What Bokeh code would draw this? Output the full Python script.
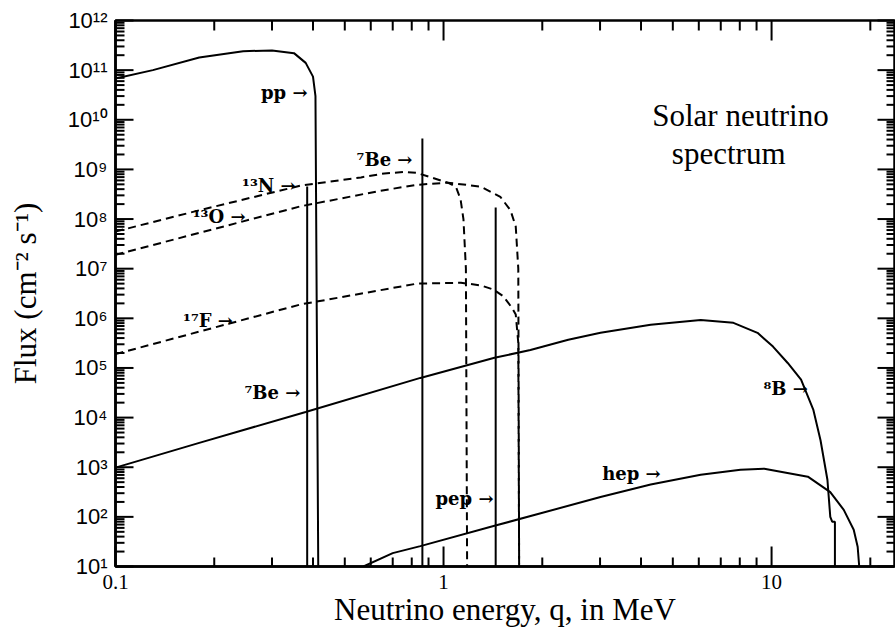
import math
from bokeh.plotting import figure
from bokeh.models import FixedTicker, Label
from bokeh.core.properties import value
from bokeh.embed import file_html
from bokeh.resources import INLINE

# ---------------- data ----------------
X_MIN, X_MAX = 0.1, 23.7
Y_MIN, Y_MAX = 10.0, 1e12

pp_energy = [0.1, 0.13, 0.18, 0.245, 0.30, 0.35, 0.38, 0.40, 0.407, 0.415]
pp_flux = [6.8e10, 1.0e11, 1.8e11, 2.4e11, 2.5e11, 2.2e11, 1.4e11, 7.4e10, 3.0e10, 10.0]

n13_energy = [0.1, 0.18, 0.366, 0.56, 0.66, 0.76, 0.83, 0.91, 1.03, 1.09, 1.127, 1.15, 1.17, 1.18]
n13_flux = [5.6e7, 1.5e8, 4.7e8, 6.9e8, 8.3e8, 8.9e8, 8.5e8, 7.0e8, 5.4e8, 4.5e8, 2.5e8, 1.0e8, 1.0e7, 10.0]

o15_energy = [0.1, 0.366, 0.64, 0.83, 1.03, 1.30, 1.49, 1.60, 1.66, 1.69, 1.70]
o15_flux = [1.9e7, 1.8e8, 3.7e8, 4.9e8, 5.4e8, 4.5e8, 2.8e8, 1.5e8, 7.1e7, 1.0e7, 10.0]

f17_energy = [0.1, 0.366, 0.83, 1.13, 1.30, 1.42, 1.52, 1.62, 1.66, 1.69, 1.70]
f17_flux = [1.9e5, 1.9e6, 5.0e6, 5.2e6, 4.6e6, 3.8e6, 2.8e6, 1.6e6, 1.2e6, 3.2e5, 10.0]

b8_energy = [0.1, 0.18, 0.38, 0.85, 1.43, 1.84, 2.4, 3.01, 4.28, 6.08, 7.65, 9.06, 10.1,
             11.2, 12.3, 13.4, 14.1, 14.8, 15.1, 15.3, 15.6, 15.6]
b8_flux = [9.8e2, 3.1e3, 1.3e4, 6.3e4, 1.6e5, 2.3e5, 3.7e5, 5.1e5, 7.4e5, 9.3e5, 8.1e5, 5.1e5, 2.7e5,
           1.26e5, 5.8e4, 1.45e4, 3.5e3, 5.6e2, 1.0e2, 8.0e1, 8.0e1, 10.0]

hep_energy = [0.57, 0.70, 0.85, 1.43, 3.01, 4.28, 6.08, 8.04, 9.5, 12.9, 15.1, 16.6,
              17.8, 18.3, 18.5]
hep_flux = [10.0, 18.6, 25.7, 66.0, 251.0, 447.0, 708.0, 891.0, 933.0, 646.0, 316.0, 138.0,
            55.0, 25.0, 10.0]

# monoenergetic lines: 7Be (0.384), 7Be (0.862), pep (1.442)
line_energy = [0.384, 0.862, 1.442]
line_flux = [4.5e8, 4.2e9, 1.7e8]

y_ticks = [1e1, 1e2, 1e3, 1e4, 1e5, 1e6, 1e7, 1e8, 1e9, 1e10, 1e11, 1e12]
y_tick_labels = ["10¹", "10²", "10³", "10⁴", "10⁵", "10⁶", "10⁷", "10⁸", "10⁹",
                 "10¹⁰", "10¹¹", "10¹²"]
y_minor_ticks = [m * 10.0**k for k in range(1, 12) for m in range(2, 10)]
x_ticks = [0.1, 1.0, 10.0]
x_tick_labels = ["0.1", "1", "10"]
x_minor_ticks = [m * 10.0**k for k in (-1, 0) for m in range(2, 10)] + [20.0]

# annotation texts
ann_text = ["pp →", "¹³N →", "¹³O →", "¹⁷F →", "⁷Be →", "⁷Be →", "pep →", "hep →", "⁸B →"]
ann_x = [0.385, 0.354, 0.249, 0.228, 0.804, 0.366, 1.42, 4.59, 12.9]
ann_y = [10**10.55, 10**8.67, 10**8.05, 10**5.95, 10**9.20, 10**4.50, 10**2.38, 10**2.87, 10**4.58]

# ---------------- figure ----------------
FRAME_W, FRAME_H = 779, 546
p = figure(x_axis_type="log", y_axis_type="log",
           x_range=(X_MIN, X_MAX), y_range=(Y_MIN, Y_MAX),
           frame_width=FRAME_W, frame_height=FRAME_H, output_backend="svg", toolbar_location=None,
           min_border_left=115, min_border_right=1, min_border_top=20, min_border_bottom=68)
p.grid.visible = False
p.outline_line_color = "black"
p.outline_line_width = 2.5
p.background_fill_color = "white"
p.border_fill_color = "white"

def style_axis(ax):
    ax.axis_line_color = "black"
    ax.axis_line_width = 2.5
    ax.major_tick_in = 0
    ax.major_tick_out = 0
    ax.minor_tick_in = 0
    ax.minor_tick_out = 0
    ax.major_tick_line_color = None
    ax.minor_tick_line_color = None

# left axis
ya = p.yaxis[0]
ya.ticker = FixedTicker(ticks=y_ticks, minor_ticks=y_minor_ticks)
ya.major_label_overrides = dict(zip(y_ticks, y_tick_labels))
style_axis(ya)
ya.major_label_text_font = "Liberation Sans"
ya.major_label_text_font_size = "22px"
ya.major_label_text_color = "black"
ya.major_label_standoff = 8
ya.axis_label = "Flux (cm⁻² s⁻¹)"
ya.axis_label_text_font = "Liberation Serif"
ya.axis_label_text_font_size = "31px"
ya.axis_label_text_font_style = "normal"
ya.axis_label_text_color = "black"
ya.axis_label_standoff = 22

# bottom axis
xa = p.xaxis[0]
xa.ticker = FixedTicker(ticks=x_ticks, minor_ticks=x_minor_ticks)
xa.major_label_overrides = dict(zip(x_ticks, x_tick_labels))
style_axis(xa)
xa.major_label_text_font = "Liberation Serif"
xa.major_label_text_font_size = "21px"
xa.major_label_text_color = "black"
xa.major_label_standoff = 8
xa.axis_label = "Neutrino energy, q, in MeV"
xa.axis_label_text_font = "Liberation Serif"
xa.axis_label_text_font_size = "31px"
xa.axis_label_text_font_style = "normal"
xa.axis_label_text_color = "black"
xa.axis_label_standoff = 0

# curves
p.line(pp_energy, pp_flux, line_color="black", line_width=2)
p.line(b8_energy, b8_flux, line_color="black", line_width=2)
p.line(hep_energy, hep_flux, line_color="black", line_width=2)
p.line(n13_energy, n13_flux, line_color="black", line_width=2, line_dash="8 5")
p.line(o15_energy, o15_flux, line_color="black", line_width=2, line_dash="8 5")
p.line(f17_energy, f17_flux, line_color="black", line_width=2, line_dash="8 5")
p.segment(x0=line_energy, y0=[Y_MIN] * len(line_energy), x1=line_energy, y1=line_flux,
          line_color="black", line_width=2)

# inward tick marks on all four sides, built from the tick arrays with fixed pixel lengths
px_dec_x = FRAME_W / math.log10(X_MAX / X_MIN)
px_dec_y = FRAME_H / math.log10(Y_MAX / Y_MIN)

def yticks(vals, x_edge, length, sign, width):
    x_end = x_edge * 10 ** (sign * length / px_dec_x)
    p.segment(x0=[x_edge] * len(vals), y0=vals, x1=[x_end] * len(vals), y1=vals,
              line_color="black", line_width=width, level="overlay")

def xticks(vals, y_edge, length, sign, width):
    y_end = y_edge * 10 ** (sign * length / px_dec_y)
    p.segment(x0=vals, y0=[y_edge] * len(vals), x1=vals, y1=[y_end] * len(vals),
              line_color="black", line_width=width, level="overlay")

yticks(y_ticks, X_MIN, 18, 1, 2)
yticks(y_minor_ticks, X_MIN, 9, 1, 2)
yticks(y_ticks, X_MAX, 17, -1, 2)
yticks(y_minor_ticks, X_MAX, 8, -1, 2)
xticks(x_ticks, Y_MIN, 20, 1, 2)
xticks(x_minor_ticks, Y_MIN, 9, 1, 2)
xticks(x_ticks, Y_MAX, 20, -1, 2)
xticks(x_minor_ticks, Y_MAX, 10, -1, 2)

# annotations
p.text(x=ann_x, y=ann_y, text=ann_text, text_align="right", text_baseline="middle",
       text_font=value("DejaVu Serif"), text_font_style="bold",
       text_font_size="18px", text_color="black")

p.add_layout(Label(x=8.04, y=10**10.085, text="Solar neutrino", text_align="center",
                   text_baseline="middle", text_font="Liberation Serif",
                   text_font_size="31px", text_color="black"))
p.add_layout(Label(x=7.4, y=10**9.32, text="spectrum", text_align="center",
                   text_baseline="middle", text_font="Liberation Serif",
                   text_font_size="31px", text_color="black"))

open("out.html", "w").write(file_html(p, INLINE))
